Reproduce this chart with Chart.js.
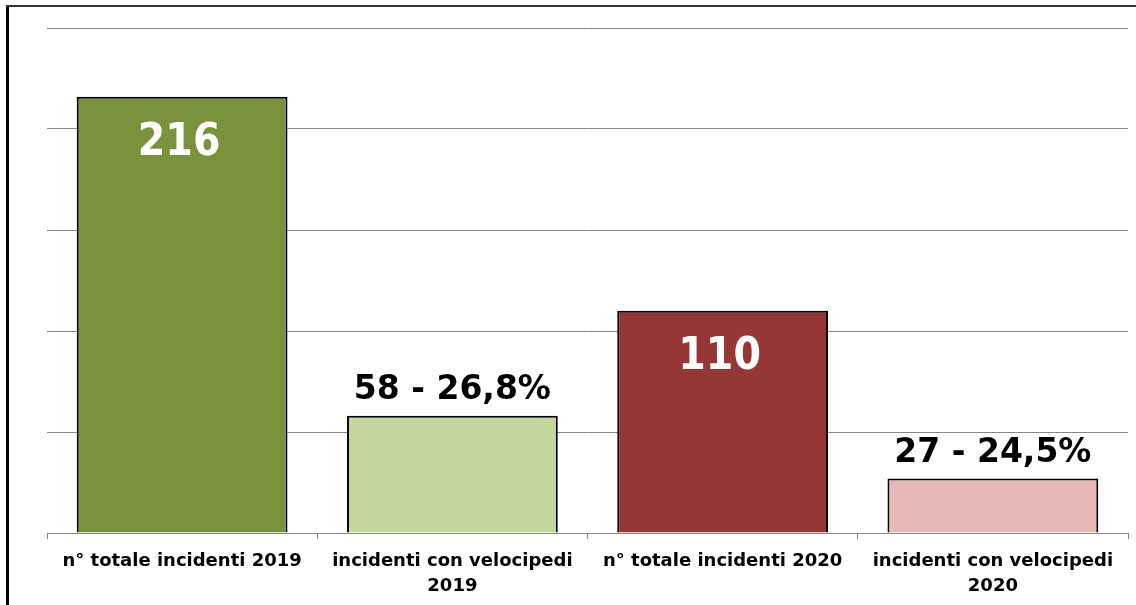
<!DOCTYPE html>
<html>
<head>
<meta charset="utf-8">
<script src="https://cdn.jsdelivr.net/npm/chart.js@4/dist/chart.umd.min.js"></script>
<style>
  html, body { margin: 0; padding: 0; background: #fff; }
  #wrap { width: 1136px; height: 605px; position: relative; }
</style>
</head>
<body>
<div id="wrap"><canvas id="chart"></canvas></div>
<script>
// categories, values and the text shown on each bar
const categories = [
  'n° totale incidenti 2019',
  ['incidenti con velocipedi', '2019'],
  'n° totale incidenti 2020',
  ['incidenti con velocipedi', '2020']
];
const values = [216, 58, 110, 27];
const shares = ['', '26,8%', '', '24,5%'];
const barColors = ['#78933b', '#c3d69b', '#953735', '#e6b9b8'];
const yMax = 250;
const yStep = 50;

const FONT = '"DejaVu Sans", Verdana, sans-serif';
const FONT_NARROW = '"DejaVu Sans Condensed", "DejaVu Sans", sans-serif';

// big numbers: white inside the tall bars, black "n - x%" above the short ones
const valueLabels = {
  id: 'valueLabels',
  afterDatasetsDraw(chart) {
    const ctx = chart.ctx;
    const meta = chart.getDatasetMeta(0);
    meta.data.forEach((bar, i) => {
      ctx.save();
      ctx.textAlign = 'center';
      ctx.textBaseline = 'middle';
      if (shares[i]) {
        ctx.font = 'bold 33px ' + FONT;
        ctx.fillStyle = '#000';
        ctx.fillText(values[i] + ' - ' + shares[i], bar.x, bar.y - 25);
      } else {
        ctx.font = 'bold 44px ' + FONT_NARROW;
        ctx.fillStyle = '#fff';
        ctx.fillText(String(values[i]), bar.x - 3, bar.y + 47);
      }
      ctx.restore();
    });
  }
};

// thin frame on the left and top edges
const frame = {
  id: 'frame',
  beforeDraw(chart) {
    const ctx = chart.ctx;
    ctx.save();
    ctx.fillStyle = '#000';
    ctx.fillRect(6, 5, 3, chart.height - 5);
    ctx.fillStyle = '#333';
    ctx.fillRect(6, 5, chart.width - 6, 2);
    ctx.restore();
  }
};

new Chart(document.getElementById('chart'), {
  type: 'bar',
  data: {
    labels: categories,
    datasets: [{
      data: values,
      backgroundColor: barColors,
      borderColor: '#000',
      borderWidth: 2,
      borderSkipped: 'bottom',
      categoryPercentage: 1,
      barPercentage: 0.78
    }]
  },
  options: {
    responsive: true,
    maintainAspectRatio: false,
    animation: false,
    layout: { padding: { top: 28, right: 8, left: 0, bottom: 0 } },
    plugins: {
      legend: { display: false },
      tooltip: { enabled: false }
    },
    scales: {
      x: {
        afterFit(axis) { axis.height = 72; },
        border: { display: true, color: '#868686', width: 1 },
        grid: {
          offset: true,
          drawOnChartArea: false,
          drawTicks: true,
          tickLength: 6,
          color: '#868686'
        },
        ticks: {
          color: '#000',
          padding: 10,
          maxRotation: 0,
          autoSkip: false,
          font: { family: FONT, weight: 'bold', size: 18, lineHeight: 1.4 }
        }
      },
      y: {
        min: 0,
        max: yMax,
        afterFit(axis) { axis.width = 47; },
        border: { display: false },
        grid: { color: '#868686', lineWidth: 1, drawTicks: false },
        ticks: { display: false, stepSize: yStep }
      }
    }
  },
  plugins: [frame, valueLabels]
});
</script>
</body>
</html>
